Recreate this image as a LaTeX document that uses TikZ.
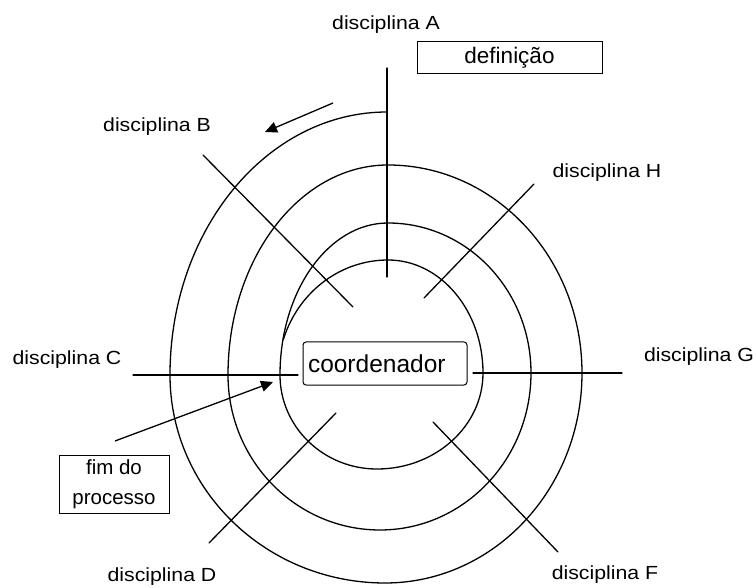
\documentclass[tikz,border=0pt]{standalone}
\usepackage{fontspec}
\setmainfont{Liberation Sans}
\newfontfamily\labf[FakeStretch=1.12]{Liberation Sans}
\usetikzlibrary{arrows.meta}
\begin{document}
\begin{tikzpicture}[x=1pt,y=-1pt,
  ln/.style={line width=1.3pt, line cap=round},
  lab/.style={font=\labf\fontsize{19}{22}\selectfont, inner sep=0pt},
  boxx/.style={draw, line width=1pt, inner sep=0pt},
  arr/.style={line width=1.3pt, -{Triangle[length=12pt,width=11pt]}}]
\useasboundingbox (0,0) rectangle (753,588);
% spiral (quarter-ellipse pieces, counter-clockwise inwards)
\coordinate (T0) at (387,112);
\coordinate (T3) at (388,260);
\draw[ln] (T0)
  .. controls (267.1,112) and (170,229.7) .. (170,375)
  .. controls (170,489.9) and (266.3,583) .. (385,583)
  .. controls (493.8,583) and (582,489.0) .. (582,373)
  .. controls (582,258.1) and (495.1,165) .. (388,165)
  .. controls (299.6,165) and (228,259.0) .. (228,375)
  .. controls (228,460.6) and (296.1,530) .. (380,530)
  .. controls (463.4,530) and (531,459.7) .. (531,373)
  .. controls (531,290.2) and (467.0,223) .. (388,223)
  .. controls (328.4,223) and (280,291.1) .. (280,375)
  .. controls (280,426.9) and (323.4,469) .. (377,469)
  .. controls (435.5,469) and (483,426.0) .. (483,373)
  .. controls (483,310.6) and (440.5,260) .. (T3);
\draw[ln] plot[domain=90:162, samples=30, smooth] ({388+110*cos(\x)},{375-115*sin(\x)});
% radial lines
\coordinate (a1) at (387,68);  \coordinate (a2) at (387,277);
\coordinate (b1) at (203,155); \coordinate (b2) at (353,307);
\coordinate (h1) at (534,184); \coordinate (h2) at (424,298);
\coordinate (c1) at (133,375); \coordinate (c2) at (298,375);
\coordinate (g1) at (473,373); \coordinate (g2) at (622,373);
\coordinate (d1) at (209,543); \coordinate (d2) at (336,413);
\coordinate (f1) at (433,422); \coordinate (f2) at (558,552);
\foreach \p in {a,b,h,c,g,d,f} \draw[ln] (\p1) -- (\p2);
% arrows
\coordinate (t1) at (333,103); \coordinate (t2) at (265,132);
\draw[arr] (t1) -- (t2);
\coordinate (e1) at (115,441); \coordinate (e2) at (273,382);
\draw[arr] (e1) -- (e2);
% boxes
\node[boxx, rounded corners=3pt, minimum width=164pt, minimum height=43pt, text width=154pt, align=left, font=\fontsize{24.5}{28}\selectfont] (coord) at (385,363.5) {coordenador};
\node[boxx, minimum width=185pt, minimum height=32pt, font=\fontsize{22.5}{26}\selectfont] (def) at (509.5,58) {definição};
\node[boxx, minimum width=110pt, minimum height=58pt, align=center, font=\fontsize{20.5}{30}\selectfont] (fim) at (114,484) {fim do\\processo};
% labels
\node[lab] (lA) at (386,25) {disciplina A};
\node[lab] (lB) at (157,127) {disciplina B};
\node[lab] (lH) at (607,173) {disciplina H};
\node[lab] (lG) at (699,357) {disciplina G};
\node[lab] (lC) at (67,360) {disciplina C};
\node[lab] (lD) at (162,577) {disciplina D};
\node[lab] (lF) at (605,575) {disciplina F};
\end{tikzpicture}
\end{document}
